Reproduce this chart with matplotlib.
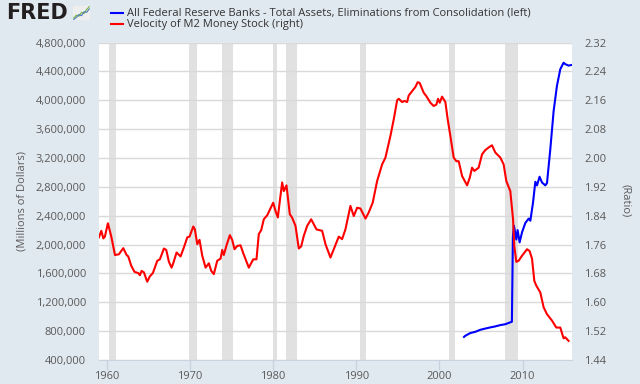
import matplotlib.pyplot as plt
from matplotlib.lines import Line2D
from matplotlib.ticker import FuncFormatter, MultipleLocator

# Данные: скорость обращения M2 (правая ось)
m2v_years = [1959.05, 1959.34, 1959.58, 1959.77, 1960.13, 1960.54, 1960.98, 1961.45, 1961.98,
             1962.38, 1962.58, 1962.94, 1963.34, 1963.78, 1963.98, 1964.18, 1964.46, 1964.86,
             1965.18, 1965.54, 1966.07, 1966.38, 1966.87, 1967.15, 1967.47, 1967.79, 1967.99,
             1968.39, 1968.87, 1969.27, 1969.68, 1969.95, 1970.40, 1970.59, 1970.88, 1971.15,
             1971.48, 1971.88, 1972.27, 1972.56, 1972.87, 1973.28, 1973.68, 1973.88, 1974.07,
             1974.40, 1974.80, 1975.08, 1975.36, 1975.68, 1976.08, 1976.41, 1977.08, 1977.61,
             1978.00, 1978.28, 1978.57, 1978.88, 1979.29, 1980.01, 1980.29, 1980.57, 1980.81,
             1981.09, 1981.29, 1981.61, 1982.01, 1982.28, 1982.69, 1983.09, 1983.38, 1983.69,
             1984.10, 1984.58, 1985.22, 1985.90, 1986.30, 1986.90, 1987.30, 1987.90, 1988.30,
             1988.70, 1989.30, 1989.70, 1990.11, 1990.50, 1991.11, 1991.50, 1991.98, 1992.51,
             1993.11, 1993.51, 1994.11, 1994.51, 1994.92, 1995.11, 1995.52, 1995.79, 1996.12,
             1996.31, 1996.72, 1997.12, 1997.39, 1997.63, 1998.11, 1998.44, 1998.92, 1999.31,
             1999.64, 1999.84, 2000.04, 2000.32, 2000.72, 2001.00, 2001.32, 2001.72, 2002.04,
             2002.32, 2002.73, 2003.33, 2003.65, 2003.93, 2004.21, 2004.72, 2005.13, 2005.53,
             2006.04, 2006.33, 2006.73, 2007.33, 2007.73, 2008.05, 2008.53, 2008.86, 2009.01,
             2009.25, 2009.53, 2009.94, 2010.54, 2010.85, 2011.14, 2011.42, 2011.66, 2012.14,
             2012.54, 2012.94, 2013.55, 2014.06, 2014.54, 2014.94, 2015.14, 2015.54]
m2v_values = [1.780, 1.798, 1.777, 1.782, 1.819, 1.782, 1.731, 1.733, 1.750,
              1.731, 1.727, 1.701, 1.684, 1.681, 1.675, 1.687, 1.683, 1.657,
              1.672, 1.681, 1.715, 1.719, 1.749, 1.745, 1.712, 1.696, 1.708,
              1.738, 1.727, 1.752, 1.780, 1.782, 1.810, 1.802, 1.761, 1.773,
              1.729, 1.696, 1.708, 1.687, 1.678, 1.715, 1.721, 1.745, 1.731,
              1.758, 1.786, 1.773, 1.747, 1.756, 1.758, 1.736, 1.696, 1.719,
              1.719, 1.789, 1.800, 1.830, 1.841, 1.876, 1.853, 1.835, 1.881,
              1.932, 1.908, 1.924, 1.844, 1.835, 1.812, 1.749, 1.755, 1.784,
              1.812, 1.830, 1.802, 1.798, 1.761, 1.724, 1.747, 1.782, 1.775,
              1.802, 1.867, 1.839, 1.862, 1.860, 1.832, 1.849, 1.876, 1.936,
              1.982, 2.001, 2.061, 2.107, 2.160, 2.164, 2.155, 2.158, 2.155,
              2.173, 2.185, 2.197, 2.210, 2.208, 2.181, 2.171, 2.153, 2.144,
              2.148, 2.164, 2.153, 2.170, 2.155, 2.107, 2.061, 2.001, 1.991,
              1.991, 1.950, 1.924, 1.945, 1.973, 1.964, 1.973, 2.010, 2.022,
              2.031, 2.035, 2.015, 2.001, 1.982, 1.936, 1.908, 1.830, 1.756,
              1.712, 1.715, 1.729, 1.747, 1.742, 1.721, 1.659, 1.646, 1.627,
              1.586, 1.567, 1.549, 1.530, 1.530, 1.500, 1.503, 1.493]

# Данные: активы ФРС (левая ось, млн долларов)
fed_years = [2002.96, 2003.12, 2003.73, 2004.30, 2004.93, 2005.50, 2006.13, 2006.70, 2007.33,
             2007.90, 2008.53, 2008.72, 2008.78, 2008.84, 2008.96, 2009.05, 2009.25, 2009.41,
             2009.65, 2009.94, 2010.34, 2010.74, 2010.94, 2011.26, 2011.54, 2011.74, 2012.05,
             2012.34, 2012.74, 2012.94, 2013.34, 2013.74, 2014.14, 2014.54, 2014.94, 2015.14,
             2015.54, 2015.95]
fed_values = [720000, 736000, 774000, 790000, 819000, 835000, 852000, 865000, 884000,
              895000, 922000, 930000, 1500000, 2100000, 2260000, 2210000, 2070000, 2200000,
              2030000, 2170000, 2300000, 2360000, 2330000, 2580000, 2870000, 2820000, 2940000,
              2860000, 2820000, 2850000, 3320000, 3850000, 4200000, 4430000, 4520000, 4500000,
              4480000, 4490000]

# Рецессии (NBER)
recessions = [(1960.25, 1961.08), (1969.92, 1970.83), (1973.83, 1975.17), (1980.0, 1980.5),
              (1981.5, 1982.83), (1990.5, 1991.17), (2001.17, 2001.83), (2007.92, 2009.42)]

labels = ["All Federal Reserve Banks - Total Assets, Eliminations from Consolidation (left)",
          "Velocity of M2 Money Stock (right)"]

# Логотип
icon_x = [0, 1, 2, 3, 4, 5, 6]
icon_green = [1, 2, 1.6, 3, 2.6, 4, 5]
icon_blue = [0.5, 1.2, 2.2, 1.8, 3.2, 3.0, 4.2]

bg = '#e1e9f0'
txt = '#595959'
plt.rcParams['font.family'] = ['Open Sans', 'DejaVu Sans']

fig = plt.figure(figsize=(6.4, 3.84), dpi=100, facecolor=bg)
ax = fig.add_axes([98.5 / 640, 24 / 384, 473.5 / 640, 317.5 / 384])
ax.set_facecolor('white')

for a, b in recessions:
    ax.axvspan(a, b, color='#e1e1e1', lw=0, zorder=0)

ax.plot(fed_years, fed_values, color='#0000ff', lw=1.5, zorder=3)
ax.set_xlim(1959.0, 2015.95)
ax.set_ylim(400000, 4800000)
ax.yaxis.set_major_locator(MultipleLocator(400000))
ax.yaxis.set_major_formatter(FuncFormatter(lambda v, p: f"{int(v):,}"))
ax.set_xticks([1960, 1970, 1980, 1990, 2000, 2010])
ax.grid(axis='y', color='#d9d9d9', lw=1, zorder=1)
ax.set_axisbelow(False)
for s in ['top', 'left', 'right']:
    ax.spines[s].set_visible(False)
ax.spines['bottom'].set_color('#c8d3e0')
ax.tick_params(axis='y', length=0, pad=9, labelsize=8, labelcolor=txt)
ax.tick_params(axis='x', length=7, width=1, color='#c8d3e0', pad=1, labelsize=8, labelcolor=txt)

ax2 = ax.twinx()
ax2.plot(m2v_years, m2v_values, color='#ff0000', lw=1.5, zorder=3)
ax2.set_ylim(1.44, 2.32)
ax2.set_yticks([1.44 + 0.08 * i for i in range(12)])
ax2.yaxis.set_major_formatter(FuncFormatter(lambda v, p: f"{v:.2f}"))
for s in ['top', 'left', 'right', 'bottom']:
    ax2.spines[s].set_visible(False)
ax2.tick_params(axis='y', length=0, pad=9, labelsize=8, labelcolor=txt)

fig.text(22 / 640, 1 - 201 / 384, "(Millions of Dollars)", rotation=90, ha='center', va='center',
         fontsize=8, color=txt)
fig.text(625 / 640, 1 - 201 / 384, "(Ratio)", rotation=270, ha='center', va='center',
         fontsize=8, color=txt)

# Легенда
for i, (lab, col) in enumerate(zip(labels, ['#0000ff', '#ff0000'])):
    yy = 1 - (13.3 + 11 * i) / 384
    fig.add_artist(Line2D([110.7 / 640, 123.3 / 640], [yy, yy], color=col, lw=1.5,
                          transform=fig.transFigure))
    fig.text(127 / 640, yy, lab, ha='left', va='center', fontsize=8, color='#333333')

# FRED
fig.text(6 / 640, 1 - 13 / 384, "FRED", ha='left', va='center', fontsize=15,
         fontweight='bold', family='DejaVu Sans', color='#231f20')
iax = fig.add_axes([73 / 640, 1 - 20 / 384, 17 / 640, 14 / 384])
iax.set_facecolor('#eeeeee')
iax.plot(icon_x, icon_green, color='#7cb342', lw=0.8)
iax.plot(icon_x, icon_blue, color='#4a7ab8', lw=0.8)
iax.set_xticks([])
iax.set_yticks([])
for s in iax.spines.values():
    s.set_visible(False)

fig.savefig('out.png', dpi=100, facecolor=bg)
